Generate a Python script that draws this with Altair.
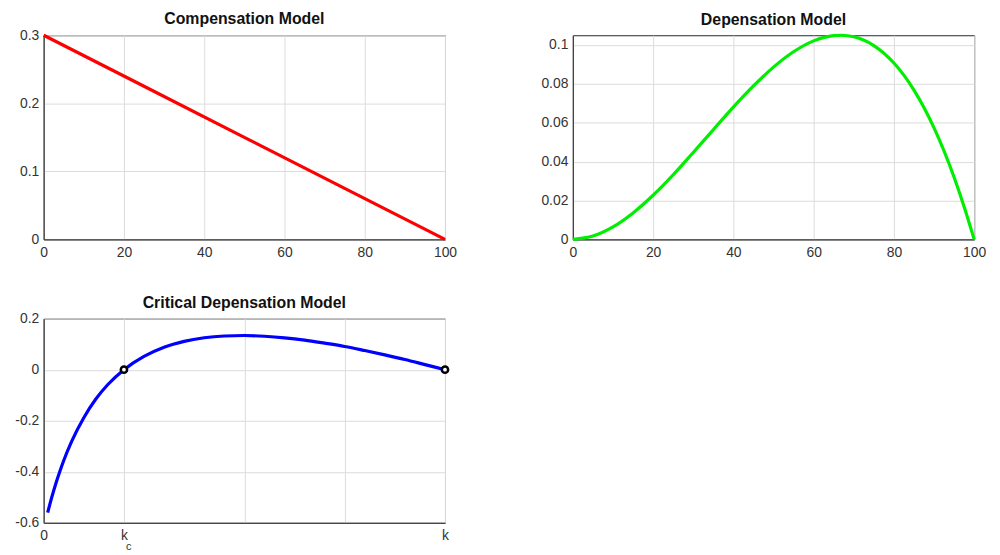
import altair as alt
import pandas as pd

# ---- data ----
comp_x = [0, 25, 50, 75, 100]
comp_y = [0.3, 0.225, 0.15, 0.075, 0.0]

dep_x = [0, 5, 10, 15, 20, 25, 30, 35, 40, 45, 50, 55, 60, 65, 67, 70, 75, 80, 85, 90, 95, 97.5, 100]
dep_y = [0.0, 0.0017, 0.0064, 0.0136, 0.0227, 0.0332, 0.0447, 0.0564, 0.0680, 0.0789,
         0.0886, 0.0965, 0.1021, 0.1048, 0.1050, 0.1042, 0.0997, 0.0907, 0.0768, 0.0574,
         0.0320, 0.0168, 0.0]

crit_x = [1, 2, 3, 4, 5, 7, 10, 13, 16, 20, 25, 30, 35, 40, 45, 50, 55, 60, 65, 70, 75, 80, 85, 90, 95, 100]
crit_y = [-0.560, -0.501, -0.448, -0.400, -0.356, -0.280, -0.188, -0.115, -0.058, 0.0,
          0.052, 0.088, 0.111, 0.125, 0.132, 0.134, 0.131, 0.125, 0.116, 0.104,
          0.091, 0.075, 0.058, 0.040, 0.020, 0.0]

eq_x = [20, 100]
eq_y = [0.0, 0.0]

crit_ticks = [0, 20, 50, 75, 100]

W, H = 405, 206
FONT = "Liberation Sans"
TXT = "#333333"


def title(t):
    return alt.TitleParams(t, fontSize=16, fontWeight="bold", font=FONT, color="#111111",
                           anchor="middle", offset=1, frame="group")


def xaxis(values, expr="toString(datum.value)"):
    return alt.Axis(values=values, labelExpr=expr, grid=True, ticks=False, labelPadding=6,
                    labelFlush=False)


def yaxis(values):
    return alt.Axis(values=values, labelExpr="toString(datum.value)", grid=True, ticks=False,
                    labelPadding=5)


p1 = alt.Chart(pd.DataFrame({"x": comp_x, "y": comp_y})).mark_line(
    color="#ff0000", strokeWidth=3.2
).encode(
    x=alt.X("x:Q", scale=alt.Scale(domain=[0, 100], nice=False), axis=xaxis([0, 20, 40, 60, 80, 100]), title=None),
    y=alt.Y("y:Q", scale=alt.Scale(domain=[0, 0.3], nice=False), axis=yaxis([0, 0.1, 0.2, 0.3]), title=None),
).properties(width=W, height=H, title=title("Compensation Model"))

p2 = alt.Chart(pd.DataFrame({"x": dep_x, "y": dep_y})).mark_line(
    color="#00ee00", strokeWidth=3.2, interpolate="monotone"
).encode(
    x=alt.X("x:Q", scale=alt.Scale(domain=[0, 100], nice=False), axis=xaxis([0, 20, 40, 60, 80, 100]), title=None),
    y=alt.Y("y:Q", scale=alt.Scale(domain=[0, 0.105], nice=False, zero=False),
            axis=yaxis([0, 0.02, 0.04, 0.06, 0.08, 0.1]), title=None),
).properties(width=W, height=H, title=title("Depensation Model"))

kexpr = "datum.value == 0 ? '0' : (datum.value == 20 || datum.value == 100) ? 'k' : ''"
cx = alt.X("x:Q", scale=alt.Scale(domain=[0, 100], nice=False), axis=xaxis(crit_ticks, kexpr), title=None)
cy = alt.Y("y:Q", scale=alt.Scale(domain=[-0.6, 0.2], nice=False, zero=False),
           axis=yaxis([-0.6, -0.4, -0.2, 0, 0.2]), title=None)

crit_line = alt.Chart(pd.DataFrame({"x": crit_x, "y": crit_y})).mark_line(
    color="#0000ff", strokeWidth=3.2, interpolate="monotone"
).encode(x=cx, y=cy)

eq_pts = alt.Chart(pd.DataFrame({"x": eq_x, "y": eq_y})).mark_point(
    shape="circle", size=40, filled=False, stroke="#000000", strokeWidth=2.5, fill="#ffffff", fillOpacity=1, opacity=1
).encode(x=cx, y=cy)

sub_c = alt.Chart(pd.DataFrame({"x": [20], "t": ["c"]})).mark_text(
    font=FONT, fontSize=11, color=TXT, align="left", baseline="alphabetic", dx=2
).encode(x=alt.X("x:Q", scale=alt.Scale(domain=[0, 100], nice=False)), y=alt.value(H + 27), text="t:N")

p3 = alt.layer(crit_line, eq_pts, sub_c).properties(width=W, height=H, title=title("Critical Depensation Model"))

chart = alt.concat(p1, p2, p3, columns=2, spacing={"row": 80, "column": 129}, bounds="flush").properties(
    padding={"left": 6, "top": 0, "right": 5, "bottom": 0}
).configure_view(
    stroke="#262626", strokeWidth=1
).configure_axis(
    labelFont=FONT, labelFontSize=14, labelColor=TXT, gridColor="#dcdcdc", gridWidth=1,
    domainColor="#262626", domainWidth=1
)

chart.save("out.html", embed_options={"renderer": "svg", "actions": False})
